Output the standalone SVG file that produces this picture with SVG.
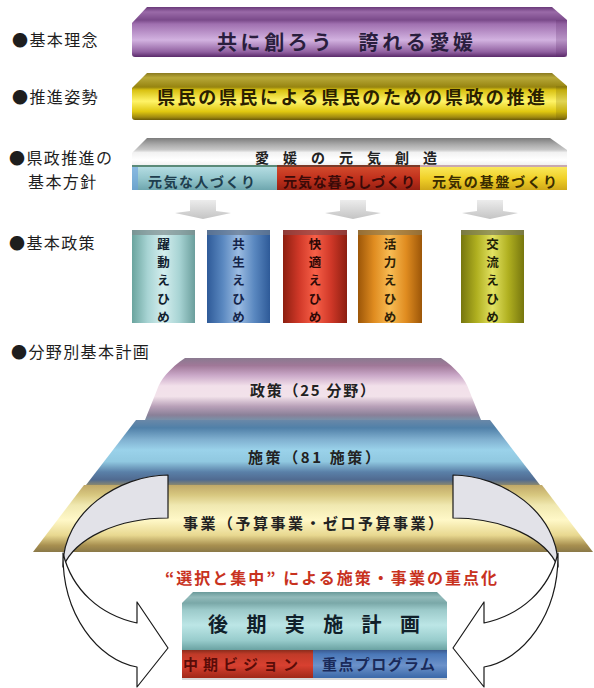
<svg xmlns="http://www.w3.org/2000/svg" width="594" height="688" viewBox="0 0 594 688">
<defs>
<style>
text{font-family:"Noto Sans CJK JP","Noto Sans CJK SC",sans-serif;}
.lbl{font-size:16px;fill:#1e1e1e;letter-spacing:1.4px}
.bar{font-weight:bold}
.sub{font-size:14px;font-weight:bold}
.col{font-size:12.5px;font-weight:bold;text-anchor:middle}
.pyr{font-size:15px;font-weight:bold;fill:#222}
.arr{stroke:#1a1a1a;stroke-width:1.2;stroke-linejoin:round}
</style>
<linearGradient id="gPurple" gradientUnits="userSpaceOnUse" x1="0" y1="7" x2="0" y2="57">
<stop offset="0" stop-color="#6a3a7a"/><stop offset="0.1" stop-color="#9a6aa8"/><stop offset="0.26" stop-color="#7a4a8a"/><stop offset="0.34" stop-color="#a070b0"/><stop offset="0.66" stop-color="#d2b2e0"/><stop offset="0.9" stop-color="#9060a0"/><stop offset="1" stop-color="#5a2a6a"/>
</linearGradient>
<linearGradient id="gYellow" gradientUnits="userSpaceOnUse" x1="0" y1="73" x2="0" y2="120">
<stop offset="0" stop-color="#8a7a20"/><stop offset="0.1" stop-color="#b8a838"/><stop offset="0.3" stop-color="#968410"/><stop offset="0.36" stop-color="#d8c010"/><stop offset="0.6" stop-color="#fff468"/><stop offset="0.82" stop-color="#e0c810"/><stop offset="0.94" stop-color="#a08a10"/><stop offset="1" stop-color="#6a5a08"/>
</linearGradient>
<linearGradient id="gGrey" gradientUnits="userSpaceOnUse" x1="0" y1="138" x2="0" y2="166">
<stop offset="0" stop-color="#7c7c7c"/><stop offset="0.22" stop-color="#a8a8a8"/><stop offset="0.42" stop-color="#c8c8c8"/><stop offset="0.52" stop-color="#f2f2f2"/><stop offset="0.78" stop-color="#ffffff"/><stop offset="1" stop-color="#eeeeee"/>
</linearGradient>
<linearGradient id="gTeal" x1="0" y1="0" x2="0" y2="1">
<stop offset="0" stop-color="#b4dce2"/><stop offset="0.5" stop-color="#94c6cc"/><stop offset="1" stop-color="#6ea6ae"/>
</linearGradient>
<linearGradient id="gRed" x1="0" y1="0" x2="0" y2="1">
<stop offset="0" stop-color="#d24a2c"/><stop offset="0.5" stop-color="#c0301c"/><stop offset="1" stop-color="#962012"/>
</linearGradient>
<linearGradient id="gGold" x1="0" y1="0" x2="0" y2="1">
<stop offset="0" stop-color="#fae85a"/><stop offset="0.5" stop-color="#f0d028"/><stop offset="1" stop-color="#d0a818"/>
</linearGradient>
<linearGradient id="gc1" x1="0" y1="0" x2="1" y2="0">
<stop offset="0" stop-color="#6aa49e"/><stop offset="0.25" stop-color="#a8d4d4"/><stop offset="0.5" stop-color="#d4eeee"/><stop offset="0.75" stop-color="#a8d4d4"/><stop offset="1" stop-color="#6a9e9c"/>
</linearGradient>
<linearGradient id="gc2" x1="0" y1="0" x2="1" y2="0">
<stop offset="0" stop-color="#2e5a98"/><stop offset="0.25" stop-color="#5a88c0"/><stop offset="0.5" stop-color="#9cbce2"/><stop offset="0.75" stop-color="#5a88c0"/><stop offset="1" stop-color="#2e5a98"/>
</linearGradient>
<linearGradient id="gc3" x1="0" y1="0" x2="1" y2="0">
<stop offset="0" stop-color="#8c1e10"/><stop offset="0.25" stop-color="#d03828"/><stop offset="0.5" stop-color="#f86048"/><stop offset="0.75" stop-color="#d03828"/><stop offset="1" stop-color="#8c1e10"/>
</linearGradient>
<linearGradient id="gc4" x1="0" y1="0" x2="1" y2="0">
<stop offset="0" stop-color="#9c5608"/><stop offset="0.25" stop-color="#e08c20"/><stop offset="0.5" stop-color="#f8bc54"/><stop offset="0.75" stop-color="#e08c20"/><stop offset="1" stop-color="#9c5608"/>
</linearGradient>
<linearGradient id="gc5" x1="0" y1="0" x2="1" y2="0">
<stop offset="0" stop-color="#76760e"/><stop offset="0.25" stop-color="#b0b020"/><stop offset="0.5" stop-color="#e2e262"/><stop offset="0.75" stop-color="#b0b020"/><stop offset="1" stop-color="#76760e"/>
</linearGradient>
<linearGradient id="gSmall" x1="0" y1="0" x2="0" y2="1">
<stop offset="0" stop-color="#ececec"/><stop offset="1" stop-color="#c4c4c4"/>
</linearGradient>
<linearGradient id="gT1" gradientUnits="userSpaceOnUse" x1="0" y1="358" x2="0" y2="420">
<stop offset="0" stop-color="#8a7a90"/><stop offset="0.12" stop-color="#a07898"/><stop offset="0.28" stop-color="#caa8c8"/><stop offset="0.45" stop-color="#f2e0ea"/><stop offset="0.62" stop-color="#f2e2ea"/><stop offset="0.78" stop-color="#b8a0b8"/><stop offset="0.92" stop-color="#8a8098"/><stop offset="1" stop-color="#7890a8"/>
</linearGradient>
<linearGradient id="gT2" gradientUnits="userSpaceOnUse" x1="0" y1="420" x2="0" y2="485">
<stop offset="0" stop-color="#6a88a8"/><stop offset="0.12" stop-color="#5080a8"/><stop offset="0.3" stop-color="#80b0d0"/><stop offset="0.46" stop-color="#9ad2ea"/><stop offset="0.64" stop-color="#90c8e0"/><stop offset="0.8" stop-color="#5a80a8"/><stop offset="0.92" stop-color="#506a90"/><stop offset="1" stop-color="#8a8870"/>
</linearGradient>
<linearGradient id="gT3" gradientUnits="userSpaceOnUse" x1="0" y1="485" x2="0" y2="552">
<stop offset="0" stop-color="#c0a868"/><stop offset="0.15" stop-color="#d8c880"/><stop offset="0.3" stop-color="#f0e8b0"/><stop offset="0.52" stop-color="#fff8c8"/><stop offset="0.75" stop-color="#e8d890"/><stop offset="0.9" stop-color="#a89050"/><stop offset="1" stop-color="#8a7848"/>
</linearGradient>
<linearGradient id="gBox" gradientUnits="userSpaceOnUse" x1="0" y1="592" x2="0" y2="650">
<stop offset="0" stop-color="#6a9a9a"/><stop offset="0.09" stop-color="#92baba"/><stop offset="0.19" stop-color="#7aa8a8"/><stop offset="0.31" stop-color="#9ccaca"/><stop offset="0.57" stop-color="#bce6e6"/><stop offset="0.83" stop-color="#98cccc"/><stop offset="1" stop-color="#6aa2a2"/>
</linearGradient>
<linearGradient id="gBoxR" x1="0" y1="0" x2="0" y2="1">
<stop offset="0" stop-color="#8a2c1c"/><stop offset="0.15" stop-color="#c03a28"/><stop offset="0.55" stop-color="#d84030"/><stop offset="1" stop-color="#a02818"/>
</linearGradient>
<linearGradient id="gBoxB" x1="0" y1="0" x2="0" y2="1">
<stop offset="0" stop-color="#3a5a90"/><stop offset="0.15" stop-color="#4a78b8"/><stop offset="0.55" stop-color="#6c92ca"/><stop offset="1" stop-color="#3a68a8"/>
</linearGradient>
<path id="smallArrow" d="M-13,200 H13 V211 L28,213 L0,219 L-28,213 L-13,211 Z"/>
</defs>
<rect width="594" height="688" fill="#ffffff"/>

<g id="labels">
<text class="lbl" x="12" y="46">●基本理念</text>
<text class="lbl" x="12" y="103">●推進姿勢</text>
<text class="lbl" x="9" y="164">●県政推進の</text>
<text class="lbl" x="28" y="188">基本方針</text>
<text class="lbl" x="9" y="249">●基本政策</text>
<text class="lbl" x="11" y="358">●分野別基本計画</text>
</g>

<g id="node-rinen">
<path d="M132,23 L147,7 H552 L567,20 V54 Q567,57 564,57 H135 Q132,57 132,54 Z" fill="url(#gPurple)"/>
<rect x="556" y="20" width="11" height="37" fill="#5a2a6a" opacity="0.22"/>
<text class="bar" x="217" y="50" font-size="20" fill="#2a1e3e" textLength="256" lengthAdjust="spacing">共に創ろう　誇れる愛媛</text>
</g>

<g id="node-shisei">
<path d="M132,88 L147,73 H552 L567,86 V117 Q567,120 564,120 H135 Q132,120 132,117 Z" fill="url(#gYellow)"/>
<rect x="556" y="86" width="11" height="34" fill="#6a5a08" opacity="0.2"/>
<text class="bar" x="157" y="104" font-size="18" fill="#2a2000" textLength="388" lengthAdjust="spacing">県民の県民による県民のための県政の推進</text>
</g>

<g id="node-houshin">
<path d="M132,153 L147,138 H550 L567,150 V166 H132 Z" fill="url(#gGrey)"/>
<text x="255" y="163" font-size="14" font-weight="bold" fill="#222" textLength="182" lengthAdjust="spacing">愛 媛 の 元 気 創 造</text>
<rect x="132" y="165" width="145" height="3" fill="#5a8a78"/>
<rect x="277" y="165" width="143" height="3" fill="#7a3a28"/>
<rect x="420" y="165" width="147" height="3" fill="#c8a8b0"/>
<rect x="132" y="167" width="145" height="23" fill="url(#gTeal)"/>
<rect x="132" y="167" width="6" height="23" fill="#6aa0e0" opacity="0.6"/>
<rect x="277" y="167" width="143" height="23" fill="url(#gRed)"/>
<rect x="420" y="167" width="147" height="23" fill="url(#gGold)"/>
<text class="sub" x="148" y="187" fill="#1e3e4e" textLength="107" lengthAdjust="spacing">元気な人づくり</text>
<text class="sub" x="283" y="187" fill="#3a0a08" textLength="132" lengthAdjust="spacing">元気な暮らしづくり</text>
<text class="sub" x="432" y="187" fill="#3a2c00" textLength="125" lengthAdjust="spacing">元気の基盤づくり</text>
</g>

<g id="node-col1">
<rect x="132" y="230" width="63" height="93" fill="url(#gc1)"/>
<rect x="132" y="230" width="63" height="5" fill="#7f8f90" opacity="0.7"/>
<text class="col" fill="#10202e"><tspan x="163.5" y="249">躍</tspan><tspan x="163.5" y="267.2">動</tspan><tspan x="163.5" y="285.4">え</tspan><tspan x="163.5" y="303.6">ひ</tspan><tspan x="163.5" y="321.8">め</tspan></text>
</g>
<g id="node-col2">
<rect x="207" y="230" width="63" height="93" fill="url(#gc2)"/>
<rect x="207" y="230" width="63" height="5" fill="#6a7a90" opacity="0.7"/>
<text class="col" fill="#14244a"><tspan x="238.5" y="249">共</tspan><tspan x="238.5" y="267.2">生</tspan><tspan x="238.5" y="285.4">え</tspan><tspan x="238.5" y="303.6">ひ</tspan><tspan x="238.5" y="321.8">め</tspan></text>
</g>
<g id="node-col3">
<rect x="283" y="230" width="64" height="93" fill="url(#gc3)"/>
<rect x="283" y="230" width="64" height="5" fill="#904848" opacity="0.7"/>
<text class="col" fill="#2e0806"><tspan x="315" y="249">快</tspan><tspan x="315" y="267.2">適</tspan><tspan x="315" y="285.4">え</tspan><tspan x="315" y="303.6">ひ</tspan><tspan x="315" y="321.8">め</tspan></text>
</g>
<g id="node-col4">
<rect x="358" y="230" width="64" height="93" fill="url(#gc4)"/>
<rect x="358" y="230" width="64" height="5" fill="#90784a" opacity="0.7"/>
<text class="col" fill="#2e1e06"><tspan x="390" y="249">活</tspan><tspan x="390" y="267.2">力</tspan><tspan x="390" y="285.4">え</tspan><tspan x="390" y="303.6">ひ</tspan><tspan x="390" y="321.8">め</tspan></text>
</g>
<g id="node-col5">
<rect x="461" y="230" width="63" height="93" fill="url(#gc5)"/>
<rect x="461" y="230" width="63" height="5" fill="#7a7a5a" opacity="0.7"/>
<text class="col" fill="#1e1e06"><tspan x="492.5" y="249">交</tspan><tspan x="492.5" y="267.2">流</tspan><tspan x="492.5" y="285.4">え</tspan><tspan x="492.5" y="303.6">ひ</tspan><tspan x="492.5" y="321.8">め</tspan></text>
</g>

<g id="node-jigyou">
<path d="M84,485 H542 L593,552 H33 Z" fill="url(#gT3)"/>
<text class="pyr" x="183" y="529" font-size="16" textLength="260" lengthAdjust="spacing">事業（予算事業・ゼロ予算事業）</text>
</g>
<g id="node-shisaku">
<path d="M136,420 H490 L540,485 H86 Z" fill="url(#gT2)"/>
<text class="pyr" x="248" y="463" textLength="132" lengthAdjust="spacing">施策（81 施策）</text>
</g>
<g id="node-seisaku">
<path d="M185,358 H441 C456,368 466,380 469,390 L481,420 H145 L157,390 C160,380 170,368 185,358 Z" fill="url(#gT1)"/>
<text class="pyr" x="250" y="396" textLength="125" lengthAdjust="spacing">政策（25 分野）</text>
</g>

<g id="node-focus">
<text x="165" y="584" font-size="16" font-weight="bold" fill="#c8321e" textLength="332" lengthAdjust="spacing">“選択と集中” による施策・事業の重点化</text>
</g>

<g id="node-kouki">
<path d="M182,603 L193,592 H437 L447,602 V650 H182 Z" fill="url(#gBox)"/>
<rect x="182" y="650" width="131" height="28" fill="url(#gBoxR)"/>
<rect x="313" y="650" width="134" height="28" fill="url(#gBoxB)"/>
<rect x="182" y="678" width="265" height="2" fill="#d8d8d8"/>
<text x="208" y="632" font-size="20" font-weight="bold" fill="#10202a" textLength="212" lengthAdjust="spacing">後 期 実 施 計 画</text>
<text x="183" y="670" font-size="15" font-weight="bold" fill="#5a0c08" textLength="115" lengthAdjust="spacing">中期ビジョン</text>
<text x="322" y="670" font-size="15" font-weight="bold" fill="#1a2a5a" textLength="113" lengthAdjust="spacing">重点プログラム</text>
</g>

<g id="connectors">
<use href="#smallArrow" transform="translate(203,0)" fill="url(#gSmall)"/>
<use href="#smallArrow" transform="translate(353,0)" fill="url(#gSmall)"/>
<use href="#smallArrow" transform="translate(490,0)" fill="url(#gSmall)"/>
<g id="curveArrowL">
<path class="arr" d="M168,475 C120,475 62,512 63,567 C75,538 118,518 168,518 Z" fill="#e2e2e8"/>
<path class="arr" d="M63,553 C62,615 98,660 137,667 L137,687 L168,648 L137,602 L137,623 C100,615 72,590 63,553 Z" fill="#ffffff"/>
</g>
<use href="#curveArrowL" transform="translate(621,0) scale(-1,1)"/>
</g>
</svg>
